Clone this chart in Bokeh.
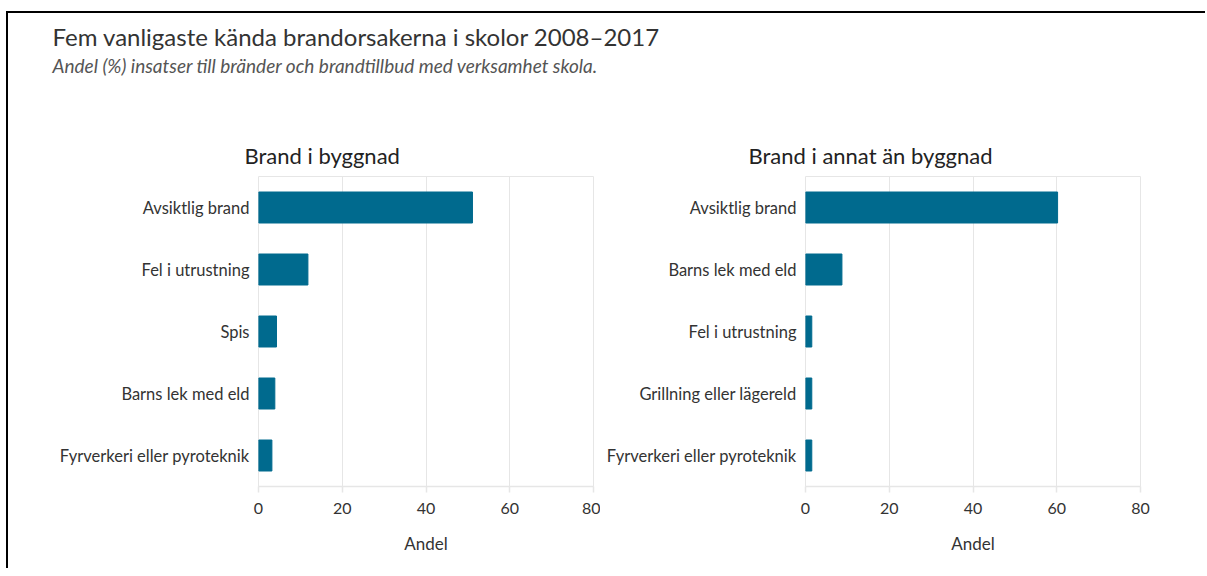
from bokeh.plotting import figure
from bokeh.models import Title, FactorRange, Range1d, ColumnDataSource, FixedTicker
from bokeh.layouts import column, row
from bokeh.embed import file_html
from bokeh.resources import INLINE
from bokeh.core.validation import silence
from bokeh.core.validation.warnings import MISSING_RENDERERS

silence(MISSING_RENDERERS, True)

main_title = "Fem vanligaste kända brandorsakerna i skolor 2008–2017"
subtitle = "Andel (%) insatser till bränder och brandtillbud med verksamhet skola."
x_ticks = [0, 20, 40, 60, 80]
x_label = "Andel"

title_left = "Brand i byggnad"
cats_left = ["Avsiktlig brand", "Fel i utrustning", "Spis", "Barns lek med eld",
             "Fyrverkeri eller pyroteknik"]
vals_left = [51.1, 11.8, 4.3, 3.9, 3.2]

title_right = "Brand i annat än byggnad"
cats_right = ["Avsiktlig brand", "Barns lek med eld", "Fel i utrustning",
              "Grillning eller lägereld", "Fyrverkeri eller pyroteknik"]
vals_right = [60.2, 8.7, 1.5, 1.5, 1.5]

FONT = "Lato"
BAR = "#006a8e"
GRID = "#e6e6e6"
TXT = "#333333"


def make_panel(title, cats, vals, width, mbl, mbr, toff):
    src = ColumnDataSource(dict(cat=cats, val=vals))
    p = figure(width=width, height=448,
               y_range=FactorRange(factors=cats[::-1], range_padding=0),
               x_range=Range1d(x_ticks[0], x_ticks[-1]),
               output_backend="svg", toolbar_location=None,
               min_border_left=mbl, min_border_right=mbr,
               min_border_top=56, min_border_bottom=82)
    p.hbar(y="cat", left=0, right="val", height=0.5, source=src,
           fill_color=BAR, line_color=BAR)
    p.title.text = title
    p.title.align = "left"
    p.title.offset = toff
    p.title.text_font = FONT
    p.title.text_font_size = "22px"
    p.title.text_font_style = "normal"
    p.title.text_color = "#222222"
    p.title.standoff = 15

    p.outline_line_color = GRID
    p.ygrid.visible = False
    p.xgrid.grid_line_color = GRID
    p.xaxis.ticker = FixedTicker(ticks=x_ticks)
    p.xaxis.axis_label = x_label
    p.xaxis.axis_label_text_font = FONT
    p.xaxis.axis_label_text_font_style = "normal"
    p.xaxis.axis_label_text_font_size = "17px"
    p.xaxis.axis_label_text_color = TXT
    p.xaxis.axis_label_standoff = 16
    p.xaxis.major_label_text_font = FONT
    p.xaxis.major_label_text_font_size = "16px"
    p.xaxis.major_label_text_color = TXT
    p.xaxis.major_label_standoff = 10
    p.xaxis.axis_line_color = GRID
    p.xaxis.axis_line_width = 1.5
    p.xaxis.major_tick_line_color = GRID
    p.xaxis.major_tick_line_width = 1.5
    p.xaxis.major_tick_in = 0
    p.xaxis.major_tick_out = 6
    p.xaxis.minor_tick_line_color = None

    p.yaxis.axis_line_color = None
    p.yaxis.major_tick_line_color = None
    p.yaxis.minor_tick_line_color = None
    p.yaxis.major_label_text_font = FONT
    p.yaxis.major_label_text_font_size = "16.5px"
    p.yaxis.major_label_text_color = TXT
    p.yaxis.major_label_standoff = 3
    return p


p1 = make_panel(title_left, cats_left, vals_left, 592, 250, 7, -14)
p2 = make_panel(title_right, cats_right, vals_right, 599, 205, 59, -57)

header = figure(width=1197, height=107, x_axis_location=None, y_axis_location=None,
                toolbar_location=None, output_backend="svg", min_border=0,
                min_border_top=64, outline_line_color=None)
header.xgrid.visible = False
header.ygrid.visible = False
header.title.visible = False
header.add_layout(Title(text=subtitle, align="left", offset=44, text_font=FONT,
                        text_font_size="19px", text_font_style="italic",
                        text_color="#555555", standoff=2), "above")
header.add_layout(Title(text=main_title, align="left", offset=44, text_font=FONT,
                        text_font_size="24px", text_font_style="normal",
                        text_color="#333333", standoff=0), "above")

layout = column(header, row(p1, p2), margin=(11, 0, 0, 6),
                styles={"border-top": "2px solid #000", "border-left": "2px solid #000"})

open("out.html", "w").write(file_html(layout, INLINE))
